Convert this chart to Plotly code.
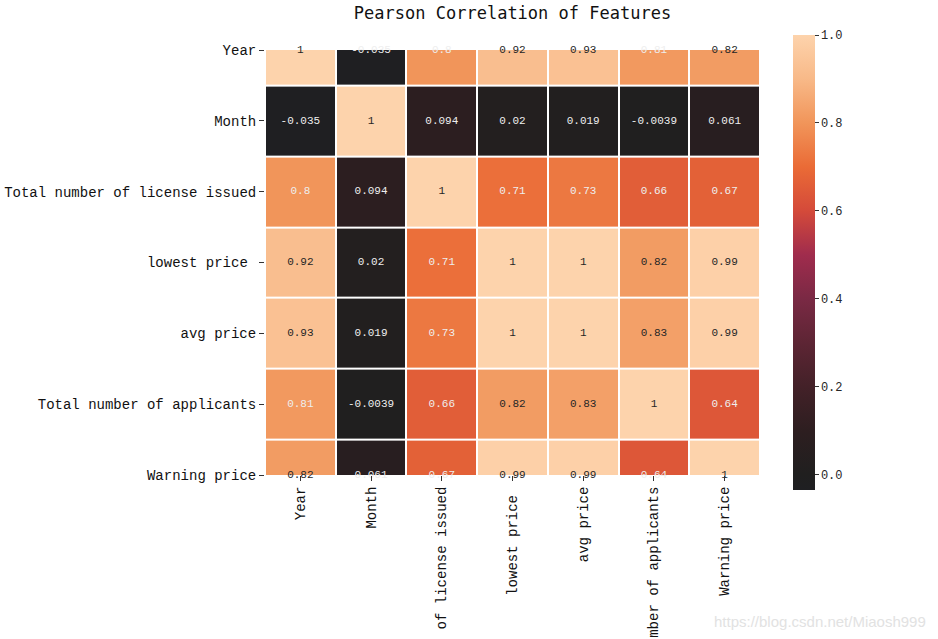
import plotly.graph_objects as go

features = ["Year", "Month", "Total number of license issued", "lowest price ",
            "avg price", "Total number of applicants", "Warning price"]

row_year = [1, -0.035, 0.8, 0.92, 0.93, 0.81, 0.82]
row_month = [-0.035, 1, 0.094, 0.02, 0.019, -0.0039, 0.061]
row_license = [0.8, 0.094, 1, 0.71, 0.73, 0.66, 0.67]
row_lowest = [0.92, 0.02, 0.71, 1, 1, 0.82, 0.99]
row_avg = [0.93, 0.019, 0.73, 1, 1, 0.83, 0.99]
row_applicants = [0.81, -0.0039, 0.66, 0.82, 0.83, 1, 0.64]
row_warning = [0.82, 0.061, 0.67, 0.99, 0.99, 0.64, 1]

corr = [row_year, row_month, row_license, row_lowest, row_avg, row_applicants, row_warning]

zmin, zmax = -0.035, 1.0
stops_v = [-0.035, 0.0, 0.1, 0.2, 0.3, 0.4, 0.5, 0.6, 0.7, 0.8, 0.9, 1.0]
stops_c = ["#1f1f22", "#201f1f", "#2d1e20", "#432128", "#5d2534", "#7a2944",
           "#a02c4d", "#d44a3a", "#ea6b36", "#f1955a", "#f8b988", "#fdd3ac"]
colorscale = [[(v - zmin) / (zmax - zmin), c] for v, c in zip(stops_v, stops_c)]

n = len(features)
idx = list(range(n))

W, H = 938, 639
L, T = 265, 50
PW, PH = 495, 425

fig = go.Figure()
fig.add_trace(go.Heatmap(
    z=corr, x=idx, y=idx, zmin=zmin, zmax=zmax, colorscale=colorscale,
    xgap=2, ygap=2, hoverinfo="skip",
    colorbar=dict(
        x=(793 - 265) / PW, xanchor="left", xref="paper", y=0.5, yanchor="middle",
        len=455, lenmode="pixels", thickness=22, outlinewidth=0, ypad=0, xpad=0,
        tickvals=[0, 0.2, 0.4, 0.6, 0.8, 1.0], ticktext=["0.0", "0.2", "0.4", "0.6", "0.8", "1.0"],
        ticks="outside", ticklen=4, tickcolor="#333",
        tickfont=dict(family="Liberation Mono", size=12, color="#262626"),
    ),
))

tx, ty, tt, tc = [], [], [], []
for i, row in enumerate(corr):
    for j, v in enumerate(row):
        tx.append(j)
        ty.append(i)
        tt.append(f"{v:.2g}")
        tc.append("#262626" if v >= 0.815 else "#eeeeee")

fig.add_trace(go.Scatter(
    x=tx, y=ty, mode="text", text=tt, cliponaxis=False, hoverinfo="skip",
    textfont=dict(family="Liberation Mono", size=11, color=tc), showlegend=False,
))

fig.update_layout(
    width=W, height=H,
    margin=dict(l=L, r=W - L - PW, t=T, b=H - T - PH),
    plot_bgcolor="white", paper_bgcolor="white",
    title=dict(text="Pearson Correlation of Features", x=(L + PW / 2) / W, xanchor="center",
               y=1 - 13 / H, yanchor="middle",
               font=dict(family="DejaVu Sans Mono", size=17, color="#111")),
    xaxis=dict(range=[-0.5, n - 0.5], tickvals=idx, ticktext=features, tickangle=-90,
               ticks="outside", ticklen=5, tickcolor="#333", showgrid=False, zeroline=False,
               automargin=False, tickfont=dict(family="Liberation Mono", size=14, color="#111")),
    yaxis=dict(range=[n - 1, 0], tickvals=idx, ticktext=features,
               ticks="outside", ticklen=5, tickcolor="#333", showgrid=False, zeroline=False,
               automargin=False, tickfont=dict(family="Liberation Mono", size=14, color="#111")),
    annotations=[dict(text="https://blog.csdn.net/Miaosh999", xref="paper", yref="paper",
                      x=(928 - 265) / PW, y=-(621 - 475) / PH, xanchor="right", yanchor="middle",
                      showarrow=False, font=dict(family="Liberation Sans", size=15, color="#e2e2e2"))],
)

fig.write_html("out.html", config={"displayModeBar": False},
               post_script="document.body.style.margin='0';")
